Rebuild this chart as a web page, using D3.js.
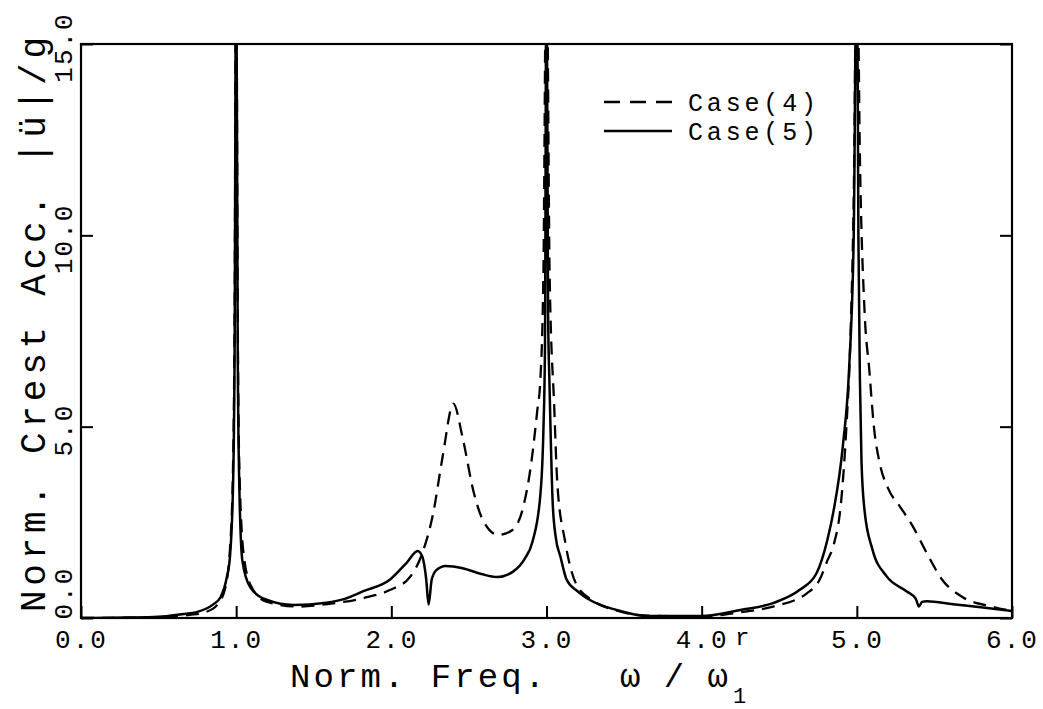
<!DOCTYPE html>
<html><head><meta charset="utf-8">
<script src="https://cdn.jsdelivr.net/npm/d3@7"></script>
<style>body{margin:0;background:#fff}svg{display:block}</style>
</head><body><svg id="c" width="1043" height="709"></svg>
<script>
const xTicks = [0, 1, 2, 3, 4, 5, 6];
const yTicks = [0, 5, 10, 15];
const legendLabels = ["Case(4)", "Case(5)"];
const yTitle = "Norm. Crest Acc. |ü|/g";
const xTitleA = "Norm. Freq.";
const xTitleB = "ω/ω";

// Case(4) dashed
const case4X = [0.0,0.5,0.7,0.8,0.88,0.93,0.96,0.98,0.99,1.0,1.01,1.02,1.05,1.1,1.2,1.4,1.6,1.82,1.99,2.12,2.2,2.27,2.33,2.4,2.46,2.53,2.59,2.69,2.78,2.85,2.9,2.94,2.96,2.98,3.0,3.02,3.05,3.07,3.12,3.19,3.3,3.45,3.65,4.0,4.25,4.46,4.68,4.76,4.81,4.85,4.9,4.93,4.96,4.98,5.0,5.02,5.05,5.08,5.11,5.15,5.2,5.28,5.36,5.45,5.55,5.68,5.88,6.0];
const case4Y = [0.0,0.02,0.08,0.15,0.35,0.8,1.8,4,8,18,8,4,1.6,0.8,0.42,0.3,0.37,0.52,0.73,1.07,1.7,2.74,4.2,5.6,4.7,3.3,2.56,2.17,2.3,2.9,4.0,5.4,6.2,9,18,9,5.5,3.5,2.0,0.9,0.45,0.2,0.06,0.04,0.15,0.3,0.65,1.0,1.5,1.9,3.1,4.8,7.5,11,18,12,8,6.5,5.0,4.0,3.4,2.9,2.4,1.7,1.0,0.55,0.29,0.18];

// Case(5) solid
const case5X = [0.0,0.3,0.5,0.65,0.75,0.85,0.9,0.94,0.96,0.98,0.99,1.0,1.01,1.02,1.04,1.09,1.2,1.37,1.58,1.7,1.82,1.99,2.1,2.17,2.2,2.225,2.24,2.26,2.29,2.35,2.46,2.58,2.68,2.78,2.86,2.91,2.96,2.98,2.99,3.0,3.01,3.02,3.04,3.06,3.09,3.13,3.2,3.28,3.45,3.65,4.0,4.25,4.46,4.63,4.74,4.81,4.85,4.91,4.95,4.98,5.0,5.01,5.02,5.03,5.05,5.1,5.19,5.32,5.38,5.4,5.42,5.45,5.62,5.84,6.0];
const case5Y = [0.0,0.01,0.03,0.1,0.16,0.35,0.55,1.07,1.6,3.5,7,18,7,3.5,1.5,0.81,0.47,0.34,0.4,0.5,0.7,1.0,1.45,1.75,1.6,1.0,0.35,1.0,1.25,1.36,1.3,1.15,1.07,1.2,1.55,2.0,3.2,4.9,7,18,8,6,3,2.1,1.6,1.0,0.7,0.47,0.21,0.05,0.05,0.21,0.39,0.73,1.17,2.04,2.8,4.5,6.5,10,18,10,6.2,4.1,2.8,1.8,1.1,0.7,0.5,0.3,0.42,0.44,0.36,0.26,0.18];

const W = 1043, H = 709;
const m = {l: 81, r: 31, t: 44, b: 91};
const svg = d3.select("#c");
const font = "'Liberation Mono', 'DejaVu Sans Mono', monospace";

const x = d3.scaleLinear().domain([0, 6]).range([m.l, W - m.r]);
const y = d3.scaleLinear().domain([0, 15]).range([H - m.b, m.t]);

svg.append("defs").append("clipPath").attr("id", "clip")
  .append("rect").attr("x", m.l).attr("y", m.t)
  .attr("width", W - m.r - m.l).attr("height", H - m.b - m.t);

const line = d3.line().x(d => x(d[0])).y(d => y(d[1])).curve(d3.curveMonotoneX);
const d4 = case4X.map((v, i) => [v, case4Y[i]]);
const d5 = case5X.map((v, i) => [v, case5Y[i]]);

const g = svg.append("g").attr("clip-path", "url(#clip)");
g.append("path").attr("d", line(d4)).attr("fill", "none").attr("stroke", "#000")
  .attr("stroke-width", 2.3).attr("stroke-dasharray", "13,8");
g.append("path").attr("d", line(d5)).attr("fill", "none").attr("stroke", "#000")
  .attr("stroke-width", 2.5);

// frame
svg.append("rect").attr("x", m.l).attr("y", m.t)
  .attr("width", W - m.r - m.l).attr("height", H - m.b - m.t)
  .attr("fill", "none").attr("stroke", "#000").attr("stroke-width", 2.2);

const fmt = d3.format(".1f");
// bottom axis
const xa = svg.append("g").attr("transform", `translate(0,${H - m.b})`)
  .call(d3.axisBottom(x).tickValues(xTicks).tickSizeInner(-12).tickSizeOuter(0).tickPadding(12).tickFormat(fmt));
xa.select(".domain").remove();
xa.selectAll("line").attr("stroke-width", 2);
xa.selectAll("text").attr("font-family", font).attr("font-size", 26).attr("letter-spacing", 2).attr("fill", "#000");

// left axis
const ya = svg.append("g").attr("transform", `translate(${m.l},0)`)
  .call(d3.axisLeft(y).tickValues(yTicks).tickSizeInner(-12).tickSizeOuter(0).tickFormat(fmt));
ya.select(".domain").remove();
ya.selectAll("line").attr("stroke-width", 2);
ya.selectAll("text").attr("x", null).attr("dy", null)
  .attr("font-family", font).attr("font-size", 26).attr("letter-spacing", 2).attr("fill", "#000")
  .attr("text-anchor", d => d === 0 ? "start" : "middle")
  .attr("transform", d => d === 0 ? "translate(-9,1) rotate(-90)" : "translate(-9,3) rotate(-90)");

// right axis
const ra = svg.append("g").attr("transform", `translate(${W - m.r},0)`)
  .call(d3.axisRight(y).tickValues(yTicks).tickSizeInner(-12).tickSizeOuter(0).tickFormat(""));
ra.select(".domain").remove();
ra.selectAll("line").attr("stroke-width", 2);

// y title
svg.append("text").attr("transform", "translate(45,612) rotate(-90)")
  .attr("font-family", font).attr("font-size", 36).attr("fill", "#000")
  .attr("textLength", 575).attr("lengthAdjust", "spacing").text(yTitle);

// x title
svg.append("text").attr("x", 290).attr("y", 687)
  .attr("font-family", font).attr("font-size", 34).attr("fill", "#000")
  .attr("textLength", 255).attr("lengthAdjust", "spacing").text(xTitleA);
svg.append("text").attr("x", 620).attr("y", 687)
  .attr("font-family", font).attr("font-size", 34).attr("fill", "#000")
  .attr("textLength", 108).attr("lengthAdjust", "spacing").text(xTitleB);
svg.append("text").attr("x", 735).attr("y", 645).attr("font-family", font)
  .attr("font-size", 24).attr("fill", "#000").text("r");
svg.append("text").attr("x", 733).attr("y", 703).attr("font-family", font)
  .attr("font-size", 22).attr("fill", "#000").text("1");

// legend
const leg = svg.append("g");
legendLabels.forEach((lab, i) => {
  const yy = 102 + i * 29;
  leg.append("line").attr("x1", 604).attr("x2", 672).attr("y1", yy).attr("y2", yy)
    .attr("stroke", "#000").attr("stroke-width", 2.3)
    .attr("stroke-dasharray", i === 0 ? "16,10" : null);
  leg.append("text").attr("x", 688).attr("y", yy + 9)
    .attr("font-family", font).attr("font-size", 25).attr("fill", "#000")
    .attr("textLength", 128).attr("lengthAdjust", "spacing").text(lab);
});
</script></body></html>
